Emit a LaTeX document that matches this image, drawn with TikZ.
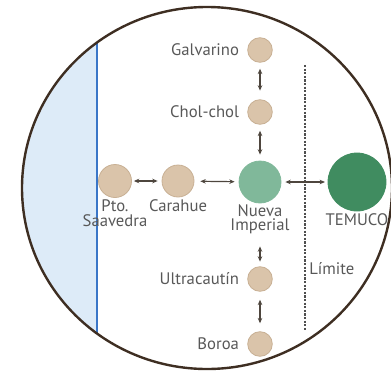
\documentclass[tikz,border=0pt]{standalone}
\usepackage{fontspec}
\setmainfont{PT Sans}
\usetikzlibrary{positioning,arrows.meta}
\definecolor{tanfill}{RGB}{218,196,170}
\definecolor{tanline}{RGB}{200,176,148}
\definecolor{nuevagreen}{RGB}{128,184,154}
\definecolor{temgreen}{RGB}{64,140,96}
\definecolor{seablue}{RGB}{221,235,248}
\definecolor{coastblue}{RGB}{58,118,200}
\definecolor{rimbrown}{RGB}{62,46,34}
\definecolor{txtgray}{RGB}{88,88,88}
\definecolor{arrowgray}{RGB}{78,70,62}

\begin{document}
\begin{tikzpicture}[x=0.75pt, y=-0.75pt,
    town/.style={circle, fill=tanfill, draw=tanline, line width=0.6pt, minimum size=18.5pt, inner sep=0pt},
    lbl/.style={text=txtgray, font=\fontsize{12.5}{11}\selectfont, inner sep=0pt, align=center},
    link/.style={{Stealth[length=4pt,width=3.4pt]}-{Stealth[length=4pt,width=3.4pt]}, draw=arrowgray, line width=0.9pt}]
    \useasboundingbox (0,0) rectangle (391,374);
    % sea and coast
    \begin{scope}
        \clip (207,188) ellipse [x radius=138.75pt, y radius=135.75pt];
        \fill[seablue] (0,0) rectangle (97,374);
        \draw[coastblue, line width=1.8pt] (97,0) -- (97,374);
    \end{scope}
    \draw[rimbrown, line width=1.8pt] (207,188) ellipse [x radius=138.75pt, y radius=135.75pt];
    % limit
    \coordinate (limtop) at (305,65);
    \coordinate (limbot) at (305,331);
    \coordinate (limmid) at (305,269);
    \draw[txtgray!90!black, line width=2pt, dash pattern=on 1.6pt off 1.1pt] (limtop) -- (limbot);
    % towns
    \node[town] (galv) at (260,50) {};
    \node[town] (chol) at (260,112) {};
    \node[town, minimum size=31.5pt, fill=nuevagreen, draw=nuevagreen] (nueva) at (260,182) {};
    \node[town, minimum size=43.5pt, fill=temgreen, draw=temgreen] (temuco) at (357,182) {};
    \node[town, minimum size=24.75pt] (pto) at (115,181) {};
    \node[town, minimum size=24pt] (carahue) at (178,181) {};
    \node[town] (ultra) at (260,279) {};
    \node[town] (boroa) at (260,344) {};
    % labels
    \node[lbl, left=6pt of galv] (galvlbl) {Galvarino};
    \node[lbl, left=6pt of chol] (chollbl) {Chol-chol};
    \node[lbl, left=6pt of ultra] (ultralbl) {Ultracautín};
    \node[lbl, left=6pt of boroa] (boroalbl) {Boroa};
    \node[lbl, below=1.5pt of pto] (ptolbl) {Pto.\\Saavedra};
    \node[lbl, below=1.5pt of carahue] (carahuelbl) {Carahue};
    \node[lbl, below=0.5pt of nueva] (nuevalbl) {Nueva\\Imperial};
    \node[lbl, below=1.5pt of temuco] (temucolbl) {TEMUCO};
    \node[lbl, right=3pt of limmid] (limlbl) {Límite};
    % links
    \draw[link, shorten <=4.5pt, shorten >=6.5pt] (galv) -- (chol);
    \draw[link, shorten <=4.5pt, shorten >=4.5pt] (chol) -- (nueva);
    \draw[link, shorten <=9pt, shorten >=3.5pt] (nuevalbl) -- (ultra);
    \draw[link, shorten <=6pt, shorten >=6pt] (ultra) -- (boroa);
    \draw[link, shorten <=1.5pt, shorten >=3pt] (pto) -- (carahue);
    \draw[link, shorten <=4.5pt, shorten >=3pt] (carahue) -- (nueva);
    \draw[link, shorten <=3pt, shorten >=2pt] (nueva) -- (temuco);
\end{tikzpicture}
\end{document}
